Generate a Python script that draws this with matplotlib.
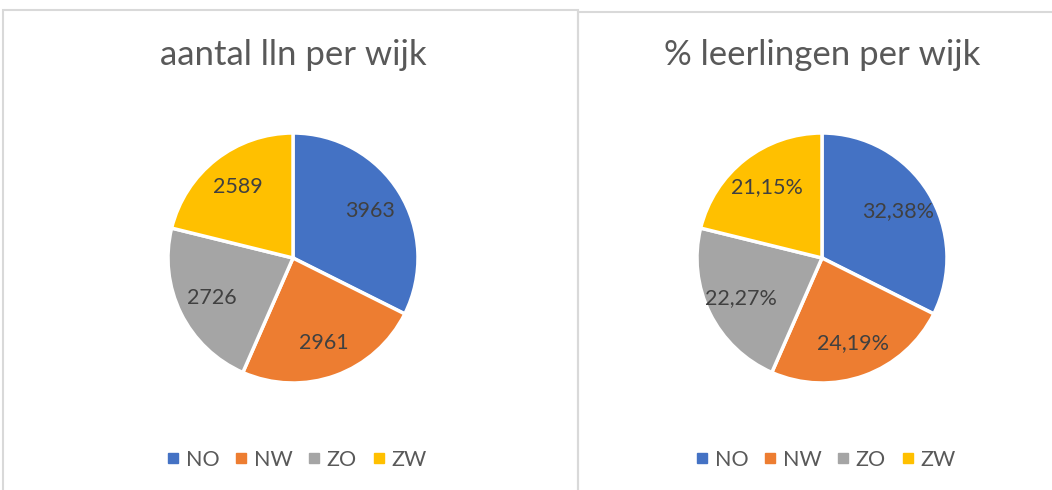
import matplotlib.pyplot as plt
from matplotlib.patches import Rectangle
from matplotlib.lines import Line2D

# data
wijken = ["NO", "NW", "ZO", "ZW"]
aantal_lln = [3963, 2961, 2726, 2589]
kleuren = ["#4472C4", "#ED7D31", "#A5A5A5", "#FFC000"]

W, H, DPI = 1052, 490, 100
plt.rcParams['font.family'] = ['Lato', 'DejaVu Sans']

fig = plt.figure(figsize=(W / DPI, H / DPI), dpi=DPI)


def px(x, y):
    # pixel (from top-left) -> figure fraction
    return x / W, 1 - y / H


# chart borders
border = "#D9D9D9"
for (x0, y0, x1) in [(3, 10, 578), (578, 12, 1060)]:
    fx0, fy0 = px(x0, y0)
    fx1, fy1 = px(x1, 495)
    fig.patches.append(Rectangle((fx0, fy1), fx1 - fx0, fy0 - fy1, transform=fig.transFigure,
                                 fill=False, edgecolor=border, linewidth=1.5, clip_on=False))


def pct_label(p):
    return f"{p:.2f}%".replace(".", ",")


def count_label(p):
    return f"{round(p * sum(aantal_lln) / 100):d}"


charts = [
    (293, 258, "aantal lln per wijk", count_label),
    (822, 258, "% leerlingen per wijk", pct_label),
]
R = 125

for cx, cy, title, fmt in charts:
    fx, fy = px(cx - R, cy + R)
    ax = fig.add_axes([fx, fy, 2 * R / W, 2 * R / H])
    wedges, texts = ax.pie(aantal_lln, colors=kleuren, startangle=90, counterclock=False,
                           wedgeprops=dict(edgecolor="white", linewidth=2.5),
                           labels=[fmt(v / sum(aantal_lln) * 100) for v in aantal_lln],
                           labeldistance=0.72,
                           textprops=dict(color="#404040", fontsize=15.5, ha="center", va="center"))
    ax.set_xlim(-1, 1)
    ax.set_ylim(-1, 1)
    ax.set_aspect("equal")
    ax.axis("off")

    tx, ty = px(cx, 55)
    fig.text(tx, ty, title, ha="center", va="center", fontsize=25, color="#595959")

    handles = [Line2D([], [], marker="s", linestyle="none", markersize=7,
                      markerfacecolor=c, markeredgecolor=c) for c in kleuren]
    lx, ly = px(cx + 4, 460)
    fig.legend(handles, wijken, loc="center", bbox_to_anchor=(lx, ly), ncol=4, frameon=False,
               fontsize=15.5, labelcolor="#595959", handletextpad=0.35, columnspacing=0.75,
               handlelength=0.5)

fig.savefig("out.png", dpi=DPI, facecolor="white")
